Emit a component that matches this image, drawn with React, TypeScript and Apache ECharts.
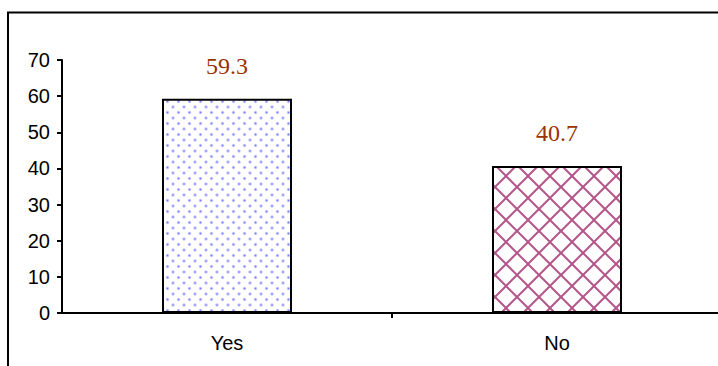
import React, { useEffect, useRef } from "react";
import * as echarts from "echarts";

const categories = ["Yes", "No"];
const percentValues = [59.3, 40.7];
const yTicks = { min: 0, max: 70, interval: 10 };

// Small repeating tile for the "Yes" bar: staggered soft blue dots.
function dotTile(): string {
  const c = document.createElement("canvas");
  c.width = 11;
  c.height = 11;
  const g = c.getContext("2d")!;
  g.fillStyle = "#ffffff";
  g.fillRect(0, 0, 11, 11);
  const dots = [
    [2.5, 2.5],
    [8, 8],
  ];
  for (const [x, y] of dots) {
    const grad = g.createRadialGradient(x, y, 0, x, y, 2.2);
    grad.addColorStop(0, "rgba(125,125,255,1)");
    grad.addColorStop(1, "rgba(125,125,255,0)");
    g.fillStyle = grad;
    g.beginPath();
    g.arc(x, y, 2.2, 0, Math.PI * 2);
    g.fill();
  }
  return c.toDataURL();
}

// Diagonal cross-hatch tile for the "No" bar.
function hatchTile(): string {
  const s = 22;
  const c = document.createElement("canvas");
  c.width = s;
  c.height = s;
  const g = c.getContext("2d")!;
  g.fillStyle = "#ffffff";
  g.fillRect(0, 0, s, s);
  g.strokeStyle = "#b4578a";
  g.lineWidth = 2;
  for (let k = -1; k <= 1; k++) {
    g.beginPath();
    g.moveTo(k * s, 0);
    g.lineTo(k * s + s, s);
    g.stroke();
    g.beginPath();
    g.moveTo(k * s + s, 0);
    g.lineTo(k * s, s);
    g.stroke();
  }
  return c.toDataURL();
}

export default function App() {
  const ref = useRef<HTMLDivElement>(null);

  useEffect(() => {
    if (!ref.current) return;
    const chart = echarts.init(ref.current, null, { renderer: "svg" });
    const fills = [
      { image: dotTile(), repeat: "repeat", imageWidth: 11, imageHeight: 11 },
      { image: hatchTile(), repeat: "repeat", imageWidth: 22, imageHeight: 22 },
    ];
    const sans = "Liberation Sans, Arial, sans-serif";
    const frameStyle = { stroke: "#000", lineWidth: 2 };

    chart.setOption({
      animation: false,
      backgroundColor: "#ffffff",
      grid: {
        left: 62,
        top: 60,
        width: 660,
        height: 253,
        containLabel: false,
        outerBoundsMode: "none",
      },
      graphic: [
        // outer frame: top and left edges
        { type: "line", shape: { x1: 7, y1: 12.5, x2: 718, y2: 12.5 }, style: frameStyle, z: 100 },
        { type: "line", shape: { x1: 8, y1: 12, x2: 8, y2: 366 }, style: frameStyle, z: 100 },
      ],
      xAxis: [
        {
          type: "category",
          data: categories,
          boundaryGap: true,
          axisLine: { lineStyle: { color: "#000", width: 2 } },
          axisTick: { show: false },
          axisLabel: {
            color: "#000",
            fontFamily: sans,
            fontSize: 20,
            margin: 20,
          },
        },
        {
          // divider tick between the two categories
          type: "value",
          position: "bottom",
          min: 0,
          max: 2,
          interval: 1,
          axisLine: { show: false },
          axisTick: {
            show: true,
            length: 5,
            customValues: [1],
            lineStyle: { color: "#000", width: 2 },
          },
          axisLabel: { show: false },
          splitLine: { show: false },
        },
      ],
      yAxis: {
        type: "value",
        min: yTicks.min,
        max: yTicks.max,
        interval: yTicks.interval,
        splitLine: { show: false },
        axisLine: { show: true, lineStyle: { color: "#000", width: 2 } },
        axisTick: { show: true, length: 5, lineStyle: { color: "#000", width: 2 } },
        axisLabel: {
          color: "#000",
          fontFamily: sans,
          fontSize: 20,
          margin: 12,
        },
      },
      series: [
        {
          type: "bar",
          xAxisIndex: 0,
          barWidth: 130,
          data: percentValues.map((v, i) => ({
            value: v,
            itemStyle: { color: fills[i] },
          })),
          itemStyle: { borderColor: "#000", borderWidth: 2 },
          label: {
            show: true,
            position: "top",
            distance: 21,
            color: "#993300",
            fontFamily: "Liberation Serif, Times New Roman, serif",
            fontSize: 24,
            formatter: (p: any) => String(p.value),
          },
        },
      ],
    });

    return () => chart.dispose();
  }, []);

  return (
    <div
      ref={ref}
      style={{ position: "fixed", left: 0, top: 0, width: 718, height: 366 }}
    />
  );
}
